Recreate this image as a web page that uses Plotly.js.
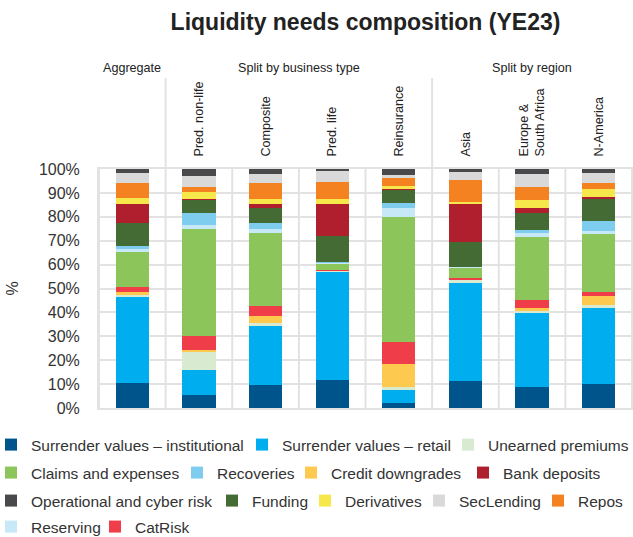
<!DOCTYPE html>
<html>
<head>
<meta charset="utf-8">
<script src="https://cdn.plot.ly/plotly-3.0.1.min.js"></script>
<style>html,body{margin:0;padding:0;background:#fff;}#chart{width:633px;height:537px;}</style>
</head>
<body>
<div id="chart"></div>
<script>
// Categories and header labels
const categories = ['Aggregate','Pred. non-life','Composite','Pred. life','Reinsurance','Asia','Europe & South Africa','N-America'];
const headerLabels = ['','Pred. non-life','Composite','Pred. life','Reinsurance','Asia','Europe &<br>South Africa','N-America'];
const groupLabels = ['Aggregate','Split by business type','Split by region'];

// Series values (% of liquidity needs), stacked bottom to top
const surrenderInstitutional = [10.5, 5.4, 9.6, 11.7, 2.1, 11.3, 8.8, 10.0];
const surrenderRetail        = [36.0, 10.5, 24.7, 45.2, 5.4, 41.0, 31.0, 31.8];
const unearnedPremiums       = [0.8, 7.5, 1.3, 0.4, 1.3, 1.3, 0.8, 1.3];
const creditDowngrades       = [1.3, 0.8, 2.9, 0.0, 9.6, 0.0, 1.3, 3.8];
const catRisk                = [2.1, 5.9, 4.2, 0.4, 9.2, 0.8, 3.3, 1.7];
const claimsExpenses         = [14.6, 44.8, 30.5, 2.5, 52.3, 4.2, 26.4, 24.3];
const reserving              = [1.3, 1.7, 1.7, 0.4, 3.8, 0.2, 1.7, 1.3];
const recoveries             = [1.3, 5.0, 2.5, 0.4, 2.1, 0.2, 1.3, 4.2];
const funding                = [9.6, 5.4, 6.3, 10.9, 5.4, 10.5, 7.1, 9.2];
const bankDeposits           = [7.9, 0.4, 1.7, 13.4, 0.4, 15.9, 2.1, 0.8];
const derivatives            = [2.5, 2.9, 2.1, 2.1, 1.3, 0.8, 3.3, 3.3];
const repos                  = [6.3, 2.1, 6.7, 7.1, 3.3, 9.2, 5.4, 2.5];
const secLending             = [4.2, 4.6, 3.8, 4.6, 1.3, 3.3, 5.4, 4.2];
const operationalCyber       = [1.7, 2.9, 2.1, 0.8, 2.5, 1.3, 2.1, 1.7];

// Series in stacking order: [name, values, colour]
const series = [
  ['Surrender values – institutional', surrenderInstitutional, '#00548c'],
  ['Surrender values – retail', surrenderRetail, '#00aeef'],
  ['Unearned premiums', unearnedPremiums, '#d8ebd0'],
  ['Credit downgrades', creditDowngrades, '#fdca4f'],
  ['CatRisk', catRisk, '#ef3d4a'],
  ['Claims and expenses', claimsExpenses, '#8cc65a'],
  ['Reserving', reserving, '#c6e8f7'],
  ['Recoveries', recoveries, '#7fcdee'],
  ['Funding', funding, '#436b33'],
  ['Bank deposits', bankDeposits, '#b01f2e'],
  ['Derivatives', derivatives, '#f6e84a'],
  ['Repos', repos, '#f58220'],
  ['SecLending', secLending, '#d9d9da'],
  ['Operational and cyber risk', operationalCyber, '#49494b']
];

// Legend layout: each entry placed where the reference shows it (text start x, row)
const legendSpots = {
  'Surrender values – institutional': [28, 0],
  'Surrender values – retail': [280, 0],
  'Unearned premiums': [486, 0],
  'Claims and expenses': [28, 1],
  'Recoveries': [215, 1],
  'Credit downgrades': [329, 1],
  'Bank deposits': [501, 1],
  'Operational and cyber risk': [28, 2],
  'Funding': [250, 2],
  'Derivatives': [343, 2],
  'SecLending': [457, 2],
  'Repos': [576, 2],
  'Reserving': [28, 3],
  'CatRisk': [133, 3]
};
const legendRowY = [445, 473, 501, 527];

const fontFam = 'Liberation Sans, Arial, Helvetica, sans-serif';
const gridCol = '#e2e2e2';
const W = 633, H = 537;

const layout = {
  width: W, height: H,
  margin: {l: 99, r: 1, t: 169, b: 129},
  paper_bgcolor: '#fff', plot_bgcolor: '#fff',
  barmode: 'stack', bargap: 0.5,
  font: {family: fontFam, color: '#333'},
  title: {text: 'Liquidity needs composition (YE23)', xref: 'paper', x: 0.5, xanchor: 'center', y: 1 - 22 / H, yanchor: 'middle',
    font: {family: fontFam, size: 23, color: '#222', weight: 'bold'}},
  xaxis: {type: 'category', side: 'top', tickangle: -90, tickvals: categories, ticktext: headerLabels,
    showgrid: false, zeroline: false, ticks: 'outside', ticklen: 8, tickcolor: 'rgba(0,0,0,0)',
    tickfont: {family: fontFam, size: 12.6, color: '#222'}, showline: true, linecolor: gridCol, linewidth: 2, mirror: true,
    range: [-0.5, categories.length - 0.5], fixedrange: true},
  yaxis: {range: [0, 100], dtick: 10, ticksuffix: '%', showgrid: true, gridcolor: gridCol, gridwidth: 2,
    zeroline: false, ticks: 'outside', ticklen: 14, tickcolor: 'rgba(0,0,0,0)',
    tickfont: {family: fontFam, size: 16, color: '#333'},
    title: {text: '%', standoff: 16, font: {family: fontFam, size: 16, color: '#333'}},
    showline: true, linecolor: gridCol, linewidth: 2, mirror: true, fixedrange: true},
  showlegend: true
};

const traces = series.map((s, i) => {
  const key = i === 0 ? 'legend' : 'legend' + (i + 1);
  const spot = legendSpots[s[0]];
  layout[key] = {orientation: 'h', xref: 'container', yref: 'container', indentation: -9,
    x: Math.max(0, (spot[0] - 29) / W), xanchor: 'left', y: 1 - legendRowY[spot[1]] / H, yanchor: 'middle',
    font: {family: fontFam, size: 15.5, color: '#333'}, bgcolor: 'rgba(0,0,0,0)', borderwidth: 0};
  return {
    type: 'bar', name: s[0], x: categories, y: s[1],
    marker: {color: s[2], line: {width: 0}},
    legend: key, hoverinfo: 'name+y'
  };
});

// category separators
const shapes = [];
for (let i = 0; i <= categories.length; i++) {
  shapes.push({type: 'line', xref: 'x', yref: 'paper', x0: i - 0.5, x1: i - 0.5, y0: 0, y1: 1,
    line: {color: gridCol, width: 2}, layer: 'below'});
}
// group separators extending into header
[0.5, 4.5].forEach(x => shapes.push({type: 'line', xref: 'x', yref: 'paper', x0: x, x1: x, y0: 1, y1: 1.38,
  line: {color: gridCol, width: 2}}));
layout.shapes = shapes;

const annY = 1.423;
layout.annotations = [
  {text: groupLabels[0], x: 0, y: annY},
  {text: groupLabels[1], x: 2.5, y: annY},
  {text: groupLabels[2], x: 6, y: annY}
].map(a => Object.assign(a, {xref: 'x', yref: 'paper', showarrow: false, xanchor: 'center', yanchor: 'middle',
  font: {family: fontFam, size: 12.6, color: '#222'}}));

Plotly.newPlot('chart', traces, layout, {displayModeBar: false, staticPlot: true});
</script>
</body>
</html>
